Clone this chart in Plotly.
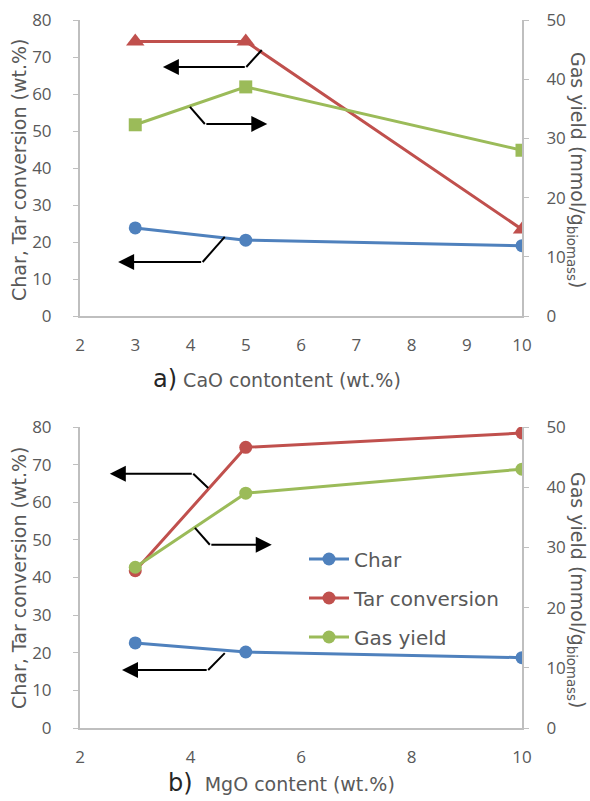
import plotly.graph_objects as go
from plotly.subplots import make_subplots

# ---- data ----
cao_content = [3, 5, 10]
cao_char = [23.8, 20.5, 19.0]
cao_tar = [74.2, 74.2, 23.4]
cao_gas = [32.3, 38.7, 28.0]

mgo_content = [3, 5, 10]
mgo_char = [22.6, 20.2, 18.7]
mgo_tar = [41.8, 74.6, 78.4]
mgo_gas = [26.7, 39.0, 43.0]

series_names = ["Char", "Tar conversion", "Gas yield"]
left_ticks = [0, 10, 20, 30, 40, 50, 60, 70, 80]
right_ticks = [0, 10, 20, 30, 40, 50]
top_xticks = [2, 3, 4, 5, 6, 7, 8, 9, 10]
bot_xticks = [2, 4, 6, 8, 10]

BLUE = "#4F81BD"
RED = "#C0504D"
GREEN = "#9BBB59"
GRAY_TXT = "#595959"
AXIS = "#BFBFBF"
FONT = "DejaVu Sans"
TICKFONT = "Open Sans"

fig = make_subplots(rows=2, cols=1, specs=[[{"secondary_y": True}], [{"secondary_y": True}]])

# top panel (a)
fig.add_trace(go.Scatter(x=cao_content, y=cao_char, mode="lines+markers", name=series_names[0],
                         line=dict(color=BLUE, width=3), marker=dict(symbol="circle", size=13, color=BLUE),
                         showlegend=False), row=1, col=1, secondary_y=False)
fig.add_trace(go.Scatter(x=cao_content, y=cao_tar, mode="lines+markers", name=series_names[1],
                         line=dict(color=RED, width=3), marker=dict(symbol="triangle-up", size=16, color=RED),
                         showlegend=False), row=1, col=1, secondary_y=False)
fig.add_trace(go.Scatter(x=cao_content, y=cao_gas, mode="lines+markers", name=series_names[2],
                         line=dict(color=GREEN, width=3), marker=dict(symbol="square", size=13, color=GREEN),
                         showlegend=False), row=1, col=1, secondary_y=True)

# bottom panel (b)
fig.add_trace(go.Scatter(x=mgo_content, y=mgo_char, mode="lines+markers", name=series_names[0],
                         legendgroup="g1",
                         line=dict(color=BLUE, width=3), marker=dict(symbol="circle", size=13, color=BLUE)),
              row=2, col=1, secondary_y=False)
fig.add_trace(go.Scatter(x=mgo_content, y=mgo_tar, mode="lines+markers", name=series_names[1],
                         legendgroup="g2",
                         line=dict(color=RED, width=3), marker=dict(symbol="circle", size=13, color=RED)),
              row=2, col=1, secondary_y=False)
fig.add_trace(go.Scatter(x=mgo_content, y=mgo_gas, mode="lines+markers", name=series_names[2],
                         legendgroup="g3",
                         line=dict(color=GREEN, width=3), marker=dict(symbol="circle", size=13, color=GREEN)),
              row=2, col=1, secondary_y=True)

tickfont = dict(family=TICKFONT, size=17, color=GRAY_TXT)
common_y = dict(showgrid=False, zeroline=False, showline=True, linecolor=AXIS, linewidth=2,
                ticks="outside", ticklen=5, tickcolor=AXIS, tickwidth=1, tickfont=tickfont,
                automargin=False)
common_x = dict(showgrid=False, zeroline=False, showline=True, linecolor=AXIS, linewidth=2,
                ticks="", tickfont=tickfont, range=[2, 10], ticklabelstandoff=13, automargin=False)

top_dom = [1 - (316 - 20) / 708, 1.0]
bot_dom = [0.0, (728 - 427) / 708]

W, H = 442.0, 708.0
def px(xp):
    return (xp - 80) / W
def py(yp):
    return (801 - 73 - yp) / H

fig.update_layout(
    width=590, height=801,
    margin=dict(l=80, r=68, t=20, b=73, autoexpand=False),
    paper_bgcolor="white", plot_bgcolor="white",
    xaxis=dict(**common_x, tickvals=top_xticks, domain=[0, 1]),
    xaxis2=dict(**common_x, tickvals=bot_xticks, domain=[0, 1]),
    yaxis=dict(**common_y, range=[0, 80], tickvals=left_ticks, domain=top_dom, ticklabelstandoff=18),
    yaxis2=dict(**common_y, range=[0, 50], tickvals=right_ticks, domain=top_dom, side="right", ticklabelstandoff=14),
    yaxis3=dict(**common_y, range=[0, 80], tickvals=left_ticks, domain=bot_dom, ticklabelstandoff=18),
    yaxis4=dict(**common_y, range=[0, 50], tickvals=right_ticks, domain=bot_dom, side="right", ticklabelstandoff=14),
    legend=dict(x=px(304), y=py(598), xanchor="left", yanchor="middle",
                font=dict(family=FONT, size=20, color=GRAY_TXT),
                bgcolor="rgba(0,0,0,0)", traceorder="grouped", tracegroupgap=10, itemwidth=40),
    showlegend=True,
)

# arrows (diagonal leader + horizontal arrow), data coords
arrows = [
    # (xref, yref, start_x, start_y, bend_x, bend_y, end_x)
    ("x", "y", 5.29, 71.9, 5.01, 67.3, 3.50),
    ("x", "y", 3.99, 56.5, 4.26, 51.9, 5.39),
    ("x", "y", 4.62, 21.4, 4.22, 14.6, 2.69),
    ("x2", "y3", 4.32, 63.8, 4.05, 67.6, 2.54),
    ("x2", "y3", 4.08, 53.2, 4.35, 48.7, 5.47),
    ("x2", "y3", 4.62, 19.9, 4.32, 15.4, 2.76),
]
for xr, yr, sx, sy, bx, by, ex in arrows:
    fig.add_shape(type="line", xref=xr, yref=yr, x0=sx, y0=sy, x1=bx, y1=by,
                  line=dict(color="black", width=2))
    fig.add_annotation(xref=xr, yref=yr, axref=xr, ayref=yr, x=ex, y=by, ax=bx, ay=by,
                       text="", showarrow=True, arrowhead=2, arrowsize=1.6, arrowwidth=2,
                       arrowcolor="black")

def ytitle(x, y, angle):
    return dict(xref="paper", yref="paper", x=x, y=y, showarrow=False, textangle=angle,
                xanchor="center", yanchor="middle")

left_title = "Char, Tar conversion (wt.%)"
right_title = "Gas yield (mmol/g<sub>biomass</sub>)"
for yc in (170, 578):
    fig.add_annotation(**ytitle(px(19), py(yc), -90), text=left_title,
                       font=dict(family=FONT, size=19, color=GRAY_TXT))
for yc in (170, 590):
    fig.add_annotation(**ytitle(px(577), py(yc), 90), text=right_title,
                       font=dict(family=FONT, size=19, color=GRAY_TXT))

fig.add_annotation(xref="paper", yref="paper", x=px(151), y=py(379), xanchor="left", yanchor="middle",
                   showarrow=False,
                   text="<span style='font-size:24px;color:#262626'>a)</span> CaO contontent (wt.%)",
                   font=dict(family=FONT, size=19, color=GRAY_TXT))
fig.add_annotation(xref="paper", yref="paper", x=px(166), y=py(783), xanchor="left", yanchor="middle",
                   showarrow=False,
                   text="<span style='font-size:24px;color:#262626'>b)</span>  MgO content (wt.%)",
                   font=dict(family=FONT, size=19, color=GRAY_TXT))

fig.write_html("out.html", config={"displayModeBar": False},
               post_script="document.body.style.margin='0';document.body.style.overflow='hidden';")
